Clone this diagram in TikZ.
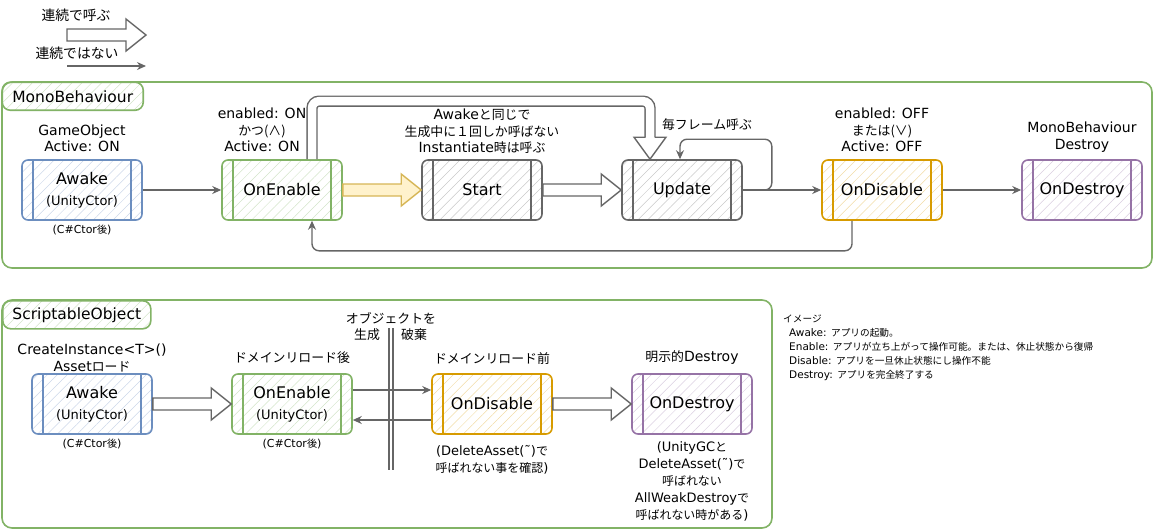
\documentclass[tikz,border=0pt]{standalone}
\usepackage{fontspec}
\setmainfont{DejaVu Sans}
\newfontfamily\jpfont[Scale=0.92]{Noto Sans CJK JP}
\newcommand\jp[1]{{\jpfont #1}}
\newcommand\subf{\fontsize{13}{15}\selectfont}
\usetikzlibrary{positioning,arrows.meta,patterns.meta,calc}

\definecolor{bluecol}{HTML}{6C8EBF}
\definecolor{greencol}{HTML}{82B366}
\definecolor{graycol}{HTML}{666666}
\definecolor{orangecol}{HTML}{D79B00}
\definecolor{purplecol}{HTML}{9673A6}
\definecolor{yelline}{HTML}{D6B656}
\definecolor{yelfill}{HTML}{FFF2CC}
\definecolor{linegray}{HTML}{666666}

% fat arrow from point to point
\newcommand\fatarr[3][]{%
  \draw[fat,#1] let \p1=#2, \p2=#3 in
    (\x1,\y1+6pt) -- (\x2-20pt,\y1+6pt) -- (\x2-20pt,\y1+16pt) -- (\x2,\y1)
    -- (\x2-20pt,\y1-16pt) -- (\x2-20pt,\y1-6pt) -- (\x1,\y1-6pt) -- cycle;}

\begin{document}
\begin{tikzpicture}[x=1pt,y=-1pt,
    box/.style={draw=#1, line width=1.6pt, rounded corners=6pt,
      minimum width=120pt, minimum height=60pt, inner sep=0pt, align=center,
      font=\fontsize{16}{19}\selectfont,
      pattern={Lines[angle=45,distance=7pt,line width=0.5pt]}, pattern color=#1!35,
      path picture={\draw[#1, line width=1.6pt]
        ([xshift=11pt]path picture bounding box.north west) -- ([xshift=11pt]path picture bounding box.south west)
        ([xshift=-11pt]path picture bounding box.north east) -- ([xshift=-11pt]path picture bounding box.south east);}},
    grp/.style={draw=greencol, line width=1.6pt, rounded corners=10pt},
    grplbl/.style={anchor=north west, draw=greencol, line width=1.6pt, rounded corners=8pt,
      minimum width=141pt, minimum height=28pt, inner sep=0pt,
      font=\fontsize{15.5}{18}\selectfont,
      pattern={Lines[angle=45,distance=7pt,line width=0.5pt]}, pattern color=greencol!35},
    lbl/.style={align=center, inner sep=0pt, font=\fontsize{14}{16.5}\selectfont},
    small/.style={align=center, inner sep=0pt, font=\fontsize{11}{13}\selectfont},
    sub/.style={align=center, inner sep=0pt, font=\fontsize{13}{17}\selectfont},
    note/.style={align=left, inner sep=0pt, font=\fontsize{10.5}{14}\selectfont},
    arr/.style={draw=linegray, line width=1.4pt, -{Stealth[length=9pt,width=8pt]}},
    fat/.style={draw=linegray, line width=1.4pt, fill=white, line join=miter},
    dbl/.style={draw=linegray, line width=1.4pt, double=white, double distance=8.5pt},
    sep/.style={draw=linegray, line width=1.4pt}]
  \useasboundingbox (0,0) rectangle (1160,531);

  % Legend
  \node[lbl, font=\fontsize{15}{17}\selectfont] (lgfat) at (76,15) {\jp{連続で呼ぶ}};
  \coordinate (lgfa) at (67,35);
  \coordinate (lgfb) at (146,35);
  \fatarr{(lgfa)}{(lgfb)}
  \node[lbl, font=\fontsize{15}{17}\selectfont] (lgthin) at (77,53) {\jp{連続ではない}};
  \coordinate (lgta) at (67,66);
  \coordinate (lgtb) at (146,66);
  \draw[arr] (lgta) -- (lgtb);

  % MonoBehaviour
  \draw[grp] (2,82) rectangle (1152,268);
  \node[grplbl] (mbl) at (2,82) {MonoBehaviour};

  \node[box=bluecol] (aw1) at (82,190) {Awake\\[2pt]{\subf (UnityCtor)}};
  \node[box=greencol, right=78.4pt of aw1] (en1) {OnEnable};
  \node[box=graycol, right=78.4pt of en1] (st1) {Start};
  \node[box=graycol, right=78.4pt of st1] (up1) {Update};
  \node[box=orangecol, right=78.4pt of up1] (dis1) {OnDisable};
  \node[box=purplecol, right=78.4pt of dis1] (des1) {OnDestroy};

  \draw[arr] (aw1) -- (en1);
  \fatarr[draw=yelline, fill=yelfill]{(en1.east)}{(st1.west)}
  \fatarr{(st1.east)}{(up1.west)}
  \draw[arr] (up1) -- (dis1);
  \draw[arr] (dis1) -- (des1);

  % Loops
  \draw[arr, rounded corners=7pt] (up1.east) -- ++(29,0) |- ([xshift=-2pt,yshift=20pt]up1.north) -- ([xshift=-2pt]up1.north);
  \draw[arr, rounded corners=7pt] ([xshift=-30pt]dis1.south) |- ([xshift=30pt,yshift=-30pt]en1.south) -- ([xshift=30pt]en1.south);
  \draw[dbl, rounded corners=7pt] ([xshift=30pt]en1.north) |- ([xshift=-32pt,yshift=58pt]up1.north) -- ([xshift=-32pt,yshift=22pt]up1.north);
  \draw[fat] ([xshift=-36.5pt,yshift=22pt]up1.north) -- ([xshift=-48pt,yshift=22pt]up1.north) -- ([xshift=-32pt]up1.north)
    -- ([xshift=-16pt,yshift=22pt]up1.north) -- ([xshift=-27.5pt,yshift=22pt]up1.north);

  \node[lbl, above=7pt of aw1] (aw1t) {GameObject\\Active: ON};
  \node[small, below=4pt of aw1] (aw1b) {(C\#Ctor\jp{後})};
  \node[lbl, above=7pt of en1, xshift=-20pt] (en1t) {enabled: ON\\\jp{かつ(∧)}\\Active: ON};
  \node[lbl, above=5pt of st1] (st1t) {Awake\jp{と同じで}\\\jp{生成中に１回しか呼ばない}\\Instantiate\jp{時は呼ぶ}};
  \node[lbl] (up1t) at ([xshift=25pt,yshift=35pt]up1.north) {\jp{毎フレーム呼ぶ}};
  \node[lbl, above=7pt of dis1] (dis1t) {enabled: OFF\\\jp{または(∨)}\\Active: OFF};
  \node[lbl, above=7pt of des1] (des1t) {MonoBehaviour\\Destroy};

  % ScriptableObject
  \draw[grp] (2,300) rectangle (772,528);
  \node[grplbl, minimum width=148pt] (sol) at (2,300) {ScriptableObject};

  \node[box=bluecol] (aw2) at (92,404) {Awake\\[2pt]{\subf (UnityCtor)}};
  \node[box=greencol, right=78.4pt of aw2] (en2) {OnEnable\\[2pt]{\subf (UnityCtor)}};
  \node[box=orangecol, right=78.4pt of en2] (dis2) {OnDisable};
  \node[box=purplecol, right=78.4pt of dis2] (des2) {OnDestroy};

  \node[lbl, above=1pt of aw2] (aw2t) {CreateInstance<T>()\\Asset\jp{ロード}};
  \node[small, below=4pt of aw2] (aw2b) {(C\#Ctor\jp{後})};
  \node[lbl, above=9pt of en2] (en2t) {\jp{ドメインリロード後}};
  \node[small, below=4pt of en2] (en2b) {(C\#Ctor\jp{後})};
  \node[lbl, above=9pt of dis2] (dis2t) {\jp{ドメインリロード前}};
  \node[sub, below=10pt of dis2] (dis2b) {(DeleteAsset(˜)\jp{で}\\\jp{呼ばれない事を確認})};
  \node[lbl, above=9pt of des2] (des2t) {\jp{明示的}Destroy};
  \node[sub, below=7pt of des2] (des2b) {(UnityGC\jp{と}\\DeleteAsset(˜)\jp{で}\\\jp{呼ばれない}\\AllWeakDestroy\jp{で}\\\jp{呼ばれない時がある})};

  % Create / destroy boundary
  \coordinate (sepa) at (391,328);
  \coordinate (sepb) at (391,470);
  \draw[sep] ([xshift=-2pt]sepa) -- ([xshift=-2pt]sepb) ([xshift=2pt]sepa) -- ([xshift=2pt]sepb);
  \node[lbl] (sept) at ([yshift=10pt]sepa) {\jp{オブジェクトを}};
  \node[lbl] (sepl) at ([xshift=-24pt,yshift=-7pt]sepa) {\jp{生成}};
  \node[lbl] (sepr) at ([xshift=23pt,yshift=-7pt]sepa) {\jp{破棄}};

  \fatarr{(aw2.east)}{(en2.west)}
  \draw[arr] ([yshift=14pt]en2.east) -- ([yshift=14pt]dis2.west);
  \draw[arr] ([yshift=-16pt]dis2.west) -- ([yshift=-16pt]en2.east);
  \fatarr{(dis2.east)}{(des2.west)}

  % Notes
  \node[note, anchor=north west] (memo) at (783,315) {\jp{イメージ}\\
    \hspace*{6pt}Awake: \jp{アプリの起動。}\\
    \hspace*{6pt}Enable: \jp{アプリが立ち上がって操作可能。または、休止状態から復帰}\\
    \hspace*{6pt}Disable: \jp{アプリを一旦休止状態にし操作不能}\\
    \hspace*{6pt}Destroy: \jp{アプリを完全終了する}};
\end{tikzpicture}
\end{document}
